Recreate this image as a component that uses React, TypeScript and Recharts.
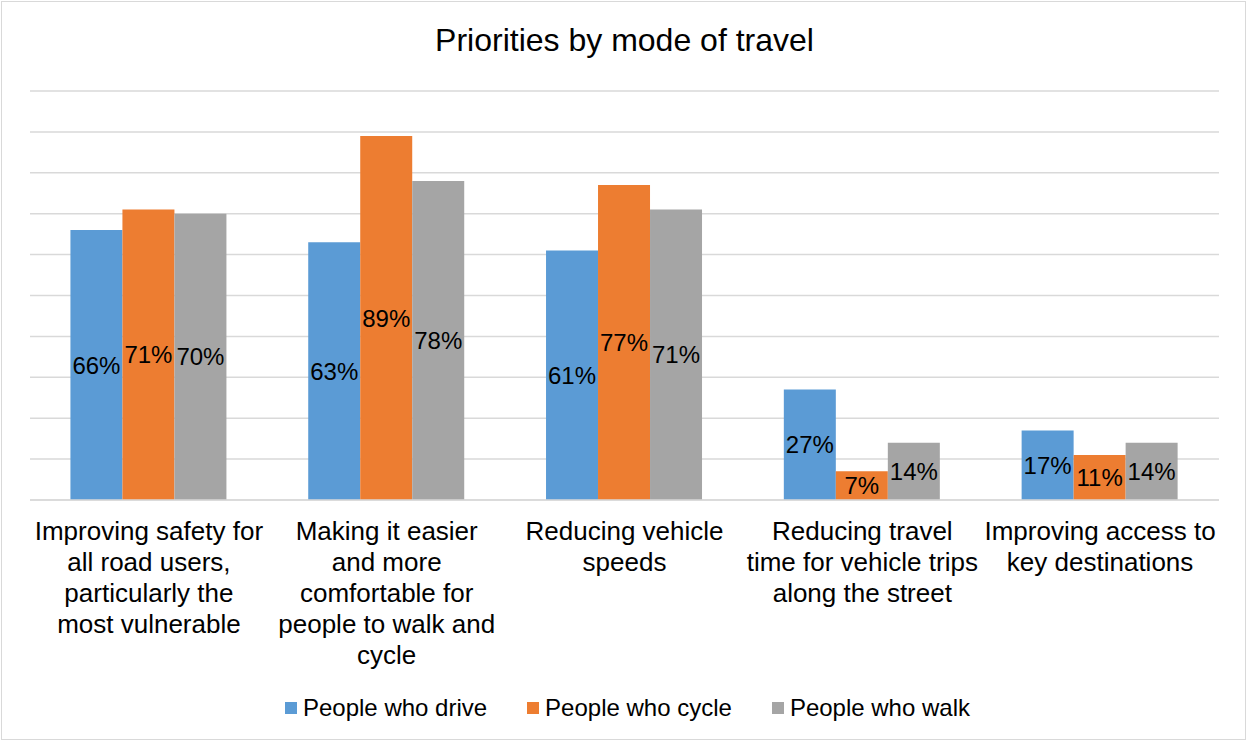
import { Bar, BarChart, CartesianGrid, LabelList, XAxis, YAxis } from "recharts"

const categories = [
  "Improving safety for\nall road users,\nparticularly the\nmost vulnerable",
  "Making it easier\nand more\ncomfortable for\npeople to walk and\ncycle",
  "Reducing vehicle\nspeeds",
  "Reducing travel\ntime for vehicle trips\nalong the street",
  "Improving access to\nkey destinations",
]
const drive = [66, 63, 61, 27, 17]
const cycle = [71, 89, 77, 7, 11]
const walk = [70, 78, 71, 14, 14]
const yTicks = [0, 10, 20, 30, 40, 50, 60, 70, 80, 90, 100]

const series = [
  { key: "drive", name: "People who drive", color: "#5B9BD5" },
  { key: "cycle", name: "People who cycle", color: "#ED7D31" },
  { key: "walk", name: "People who walk", color: "#A5A5A5" },
]

const data = categories.map((c, i) => ({ category: c, drive: drive[i], cycle: cycle[i], walk: walk[i] }))

const font = "'Liberation Sans', Arial, sans-serif"

function CategoryTick(props: any) {
  const { x, y, payload } = props
  const lines = String(payload.value).split("\n")
  return (
    <text x={x} y={y} textAnchor="middle" fontSize={26} fill="#000" fontFamily={font}>
      {lines.map((l: string, i: number) => (
        <tspan key={i} x={x} dy={i === 0 ? 32 : 31}>
          {l}
        </tspan>
      ))}
    </text>
  )
}

export default function App() {
  return (
    <div style={{ position: "absolute", left: 0, top: 0, width: 1249, height: 742, background: "#fff", fontFamily: font }}>
      <div style={{ position: "absolute", left: 1, top: 1, width: 1243, height: 737, border: "1px solid #D9D9D9" }} />
      <div style={{ position: "absolute", left: 0, top: 24, width: 1249, textAlign: "center", fontSize: 32, lineHeight: "32px", color: "#000" }}>
        Priorities by mode of travel
      </div>
      <div style={{ position: "absolute", left: 0, top: 0 }}>
        <BarChart width={1249} height={742} data={data} margin={{ top: 91, right: 30, left: 30, bottom: 72 }} barCategoryGap="17%" barGap={0}>
          <CartesianGrid horizontal vertical={false} stroke="#D9D9D9" strokeWidth={1.5} />
          <XAxis dataKey="category" height={170} tickLine={false} axisLine={{ stroke: "#D9D9D9", strokeWidth: 1.5 }} tick={<CategoryTick />} interval={0} />
          <YAxis hide domain={[0, 100]} ticks={yTicks} />
          {series.map((s) => (
            <Bar key={s.key} dataKey={s.key} name={s.name} fill={s.color} isAnimationActive={false}>
              <LabelList dataKey={s.key} position="center" fontSize={24} fill="#000" fontFamily={font} formatter={(v: any) => `${v}%`} />
            </Bar>
          ))}
        </BarChart>
      </div>
      <div style={{ position: "absolute", left: 3, top: 694, width: 1249, height: 28, display: "flex", justifyContent: "center", alignItems: "center", gap: 40, fontSize: 24, lineHeight: "28px", color: "#000" }}>
        {series.map((s) => (
          <div key={s.key} style={{ display: "flex", alignItems: "center" }}>
            <span style={{ display: "inline-block", width: 12, height: 12, background: s.color, marginRight: 6 }} />
            <span>{s.name}</span>
          </div>
        ))}
      </div>
    </div>
  )
}
